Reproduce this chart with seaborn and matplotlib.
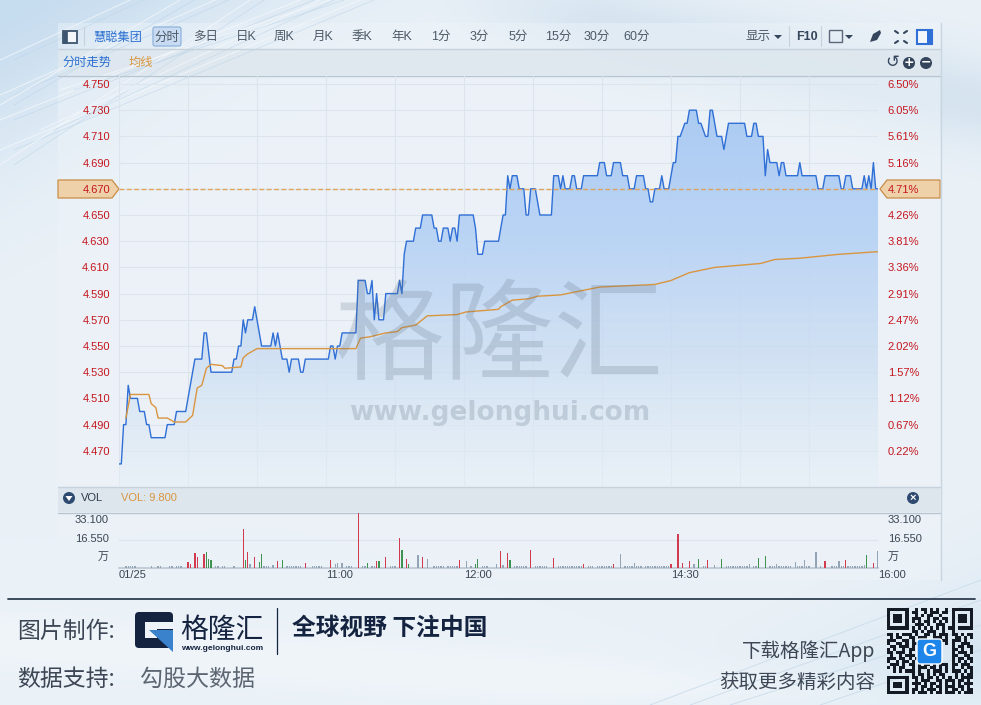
import numpy as np
import pandas as pd
import seaborn as sns
import matplotlib.pyplot as plt
from matplotlib.colors import LinearSegmentedColormap
from matplotlib.patches import Circle, FancyBboxPatch, Polygon, Rectangle

# minutes since the open, 330 = close
price_minutes = [
    0, 1, 2, 3, 4, 5, 8, 9, 11, 12, 13, 14, 20, 21, 24, 25, 29, 33, 36, 37, 38, 40, 49, 50, 51, 52, 53, 54, 55, 56,
    58, 59, 60, 62, 66, 67, 68, 69, 71, 73, 74, 75, 78, 79, 80, 81, 91, 92, 93, 94, 95, 96, 97,
    103, 104, 107, 108, 109, 110, 111, 112, 113, 115, 116, 121, 122, 123, 124, 125, 128, 129, 131, 132, 136, 137,
    138, 139, 140, 141, 143, 144, 145, 146, 147, 148, 154, 155, 156, 158, 159, 165,
    167, 168, 169, 170, 171, 173, 174, 176, 177, 178, 179, 181, 183, 188, 189, 191, 192, 193, 194, 196, 197, 198,
    199, 201, 202, 208, 209, 211, 212, 214, 215, 218, 219, 221, 222, 224, 225, 228, 229, 230, 231, 232, 233, 235,
    236, 237, 239, 241, 242, 243, 244, 246, 247, 248, 251, 252, 253, 255, 256, 257, 258, 260, 262, 263, 265,
    272, 273, 275, 276, 277, 278, 280, 281, 282, 283, 286, 287, 288, 289, 290, 295, 296, 297, 303, 304, 306, 307,
    313, 314, 315, 316, 318, 319, 323, 324, 325, 326, 327, 328, 329, 330,
]
price_values = [
    4.46, 4.46, 4.49, 4.49, 4.52, 4.51, 4.51, 4.50, 4.50, 4.49, 4.49, 4.48, 4.48, 4.49, 4.49, 4.50, 4.50, 4.54, 4.54,
    4.56, 4.56, 4.53, 4.53, 4.54, 4.54, 4.55, 4.55, 4.57, 4.56, 4.57,
    4.57, 4.58, 4.57, 4.55, 4.55, 4.56, 4.55, 4.56, 4.54, 4.54, 4.53, 4.54, 4.54, 4.53, 4.53, 4.54, 4.54, 4.55, 4.55,
    4.54, 4.55, 4.55, 4.56,
    4.56, 4.60, 4.60, 4.59, 4.59, 4.60, 4.57, 4.59, 4.57, 4.57, 4.59, 4.59, 4.60, 4.59, 4.62, 4.63, 4.63, 4.64, 4.64,
    4.65, 4.65, 4.64,
    4.64, 4.63, 4.63, 4.64, 4.64, 4.63, 4.64, 4.64, 4.63, 4.65, 4.65, 4.64, 4.62, 4.62, 4.63, 4.63,
    4.65, 4.65, 4.68, 4.67, 4.68, 4.68, 4.67, 4.67, 4.65, 4.65, 4.67, 4.67, 4.65, 4.65, 4.68, 4.68, 4.67, 4.68, 4.67,
    4.67, 4.68, 4.68,
    4.67, 4.67, 4.68, 4.68, 4.69, 4.69, 4.68, 4.68, 4.69, 4.69, 4.68, 4.68, 4.67, 4.67, 4.68, 4.68, 4.67, 4.67, 4.66,
    4.66, 4.67, 4.67,
    4.68, 4.67, 4.67, 4.69, 4.69, 4.71, 4.71, 4.72, 4.72, 4.73, 4.73, 4.72, 4.72, 4.71, 4.71, 4.73, 4.73, 4.71, 4.71,
    4.70, 4.72,
    4.72, 4.71, 4.71, 4.72, 4.72, 4.71, 4.71, 4.68, 4.70, 4.69, 4.69, 4.68, 4.69, 4.69, 4.68, 4.68, 4.69, 4.68, 4.68,
    4.67, 4.67, 4.68,
    4.68, 4.67, 4.67, 4.68, 4.68, 4.67, 4.67, 4.68, 4.67, 4.68, 4.67, 4.69, 4.67, 4.67,
]

avg_minutes = [
    3, 5, 13, 14, 16, 17, 21, 24, 29, 32, 34, 36, 38, 40, 45, 46, 53, 54, 56, 60, 102, 103, 105, 109, 116, 121, 123,
    129, 134, 147, 151, 165, 166, 171, 178, 182, 192, 209, 233, 240, 248, 259, 279, 285, 296, 313, 330,
]
avg_values = [
    4.495, 4.513, 4.513, 4.506, 4.503, 4.495, 4.495, 4.492, 4.492, 4.497, 4.518, 4.520, 4.533, 4.536, 4.535, 4.533,
    4.534, 4.541, 4.544, 4.548, 4.548, 4.548, 4.556, 4.557, 4.560, 4.561, 4.564, 4.566, 4.573, 4.574, 4.576, 4.578,
    4.580, 4.585, 4.586, 4.588, 4.589, 4.595, 4.597, 4.600, 4.606, 4.610, 4.613, 4.616, 4.617, 4.620, 4.622,
]

up_minutes = [30, 31, 33, 34, 37, 54, 56, 59, 69, 81, 92, 104, 112, 116, 122, 125, 132, 148, 166, 169, 179, 189, 202,
              215, 240, 243, 245, 248, 256, 307, 316, 328]
up_volumes = [3.4, 2.4, 8.5, 6.5, 8.1, 23.0, 9.1, 6.5, 4.0, 3.0, 4.4, 33.1, 4.0, 6.5, 18.0, 5.0, 6.5, 4.4, 10.0, 9.0,
              10.5, 6.0, 2.4, 2.4, 2.4, 20.0, 3.0, 4.0, 4.4, 3.8, 4.4, 3.0]
down_minutes = [38, 39, 40, 55, 61, 62, 71, 108, 113, 123, 126, 155, 156, 170, 252, 262, 278, 281, 325]
down_volumes = [9.1, 5.0, 4.4, 4.8, 3.4, 8.0, 4.4, 2.8, 4.0, 10.5, 2.4, 2.4, 5.2, 4.4, 5.0, 5.0, 5.8, 7.0, 7.5]
flat_minutes = [57, 67, 94, 95, 97, 130, 134, 151, 164, 167, 218, 224, 250, 259, 274, 286, 294, 298, 303, 313, 324, 330]
flat_volumes = [2.4, 1.8, 2.4, 2.8, 3.0, 7.5, 5.4, 3.8, 2.4, 1.8, 8.0, 2.8, 2.4, 1.8, 2.4, 2.4, 3.4, 4.4, 9.3, 4.0,
                1.8, 10.0]
tiny_minutes = [3, 4, 7, 14, 17, 22, 23, 26, 42, 45, 63, 64, 73, 75, 77, 79, 84, 86, 88, 99, 101, 106, 110, 119, 137,
                139, 141, 144, 146, 153, 158, 160, 172, 174, 176, 182, 184, 186, 191, 193, 195, 197, 199, 201, 204,
                206, 209, 211, 213, 220, 222, 226, 229, 231, 233, 235, 237, 254, 264, 266, 268, 270, 272, 283, 285,
                288, 290, 292, 296, 300, 305, 310, 311, 314, 318, 320, 322]
tiny_volumes = [0.7] * len(tiny_minutes)
low_minutes = [5, 6, 18, 25, 27, 43, 46, 50, 65, 74, 76, 78, 85, 87, 100, 107, 111, 118, 120, 138, 140, 143, 145,
               147, 159, 173, 175, 177, 181, 183, 185, 192, 194, 196, 198, 200, 205, 208, 210, 212, 214, 221, 223,
               225, 227, 230, 232, 234, 236, 238, 239, 255, 265, 267, 269, 271, 273, 276, 277, 284, 287, 289, 291,
               295, 297, 299, 312, 315, 317, 319, 321, 323]
low_volumes = [1.2] * len(low_minutes)

price_ticks = [4.750, 4.730, 4.710, 4.690, 4.670, 4.650, 4.630, 4.610, 4.590, 4.570, 4.550, 4.530, 4.510, 4.490, 4.470]
pct_labels = ["6.50%", "6.05%", "5.61%", "5.16%", "4.71%", "4.26%", "3.81%", "3.36%", "2.91%", "2.47%", "2.02%",
              "1.57%", "1.12%", "0.67%", "0.22%"]
time_ticks = [0, 90, 150, 240, 330]
time_labels = ["01/25", "11:00", "12:00", "14:30", "16:00"]
grid_minutes = list(range(0, 331, 30))
period_labels = ["多日", "日K", "周K", "月K", "季K", "年K", "1分", "3分", "5分", "15分", "30分", "60分"]
period_x = [193, 236, 274, 313, 352, 391, 431, 470, 509, 545, 584, 623]

qr_rows = [
    "#######..#.##.#.#..#.#######",
    "#.....#.##..#.###.##.#.....#",
    "#.###.#..#.#.##..#...#.###.#",
    "#.###.#.###..#.##.##.#.###.#",
    "#.###.#.#.#.##.#.#.#.#.###.#",
    "#.....#..###.#..###..#.....#",
    "#######.#.#.#.#.#.#.##.#####",
    "........##.#.###..#..#......",
    "##.#.###.#..##.#.###.##.#.##",
    ".#.##..##.###..###.#..##.#.#",
    "###..##.#.#.##.#..##.###.#..",
    "#..##.#.##..#.##.#.#.#..###.",
    ".##.###.#.##.........#.##.##",
    "#.#..#.##.#..........##.#..#",
    "##.###.#..#..........#.###.#",
    ".#..#.###.#..........##..##.",
    "###.##.#.##..........#.##.##",
    "#..#.##.#.##.........#.#.#.#",
    ".###.#.##.#.##.#.###.##.###.",
    "#.#.##..#.###.##.#.#.#..#.##",
    "..#.#.###.#..#.###.#.###.#.#",
    "........#.##.#.#.##...#.#.##",
    "#######.##.#.##.#.#.#.#.####",
    "#.....#..#.###..##.###.##.#.",
    "#.###.#.###.#.##.#.#.#.#.###",
    "#.###.#..#.##.#.##.###.##.#.",
    "#.....#.##.#.###.#.#.##.#.##",
    "#######.#.###.#.##.###.#.###",
]

W, H = 981, 705
RED = "#c5161d"
BLUE_LINE = "#2f6fd6"
ORANGE = "#d9953f"
GRID = "#dce5ed"
DARK = "#35465c"
TEXT = "#4d5966"
CN = ["Noto Sans CJK SC", "Liberation Sans"]


def px_axes(fig, left, top, right, bottom, **kw):
    # axes placed by pixel box, y counted from the top of the picture
    return fig.add_axes([left / W, 1 - bottom / H, (right - left) / W, (bottom - top) / H], **kw)


def background():
    # soft wash: blue in the top left and bottom right corners, pale bands elsewhere
    yy, xx = np.mgrid[0:H, 0:W]
    img = np.ones((H, W, 3)) * np.array([234, 241, 247]) / 255
    wash = [
        (np.exp(-((xx / 300 + yy / 170) ** 2) * 1.3), (198, 220, 239)),
        (np.exp(-(((yy - (xx - 470) * 0.2) / 45) ** 2)) * np.clip((xx - 430) / 170, 0, 1), (214, 228, 240)),
        (np.exp(-(((981 - xx) / 260 + (705 - yy) / 120) ** 2) * 1.2), (208, 226, 240)),
        (np.exp(-(((yy - 640 - (xx * 0.07)) / 30) ** 2)) * 0.5, (245, 249, 251)),
    ]
    for amount, color in wash:
        img = img * (1 - amount[..., None]) + amount[..., None] * np.array(color) / 255
    return img


sns.set_theme(style="white")
plt.rcParams["font.family"] = ["Liberation Sans", "Noto Sans CJK SC", "DejaVu Sans"]

fig = plt.figure(figsize=(W / 100, H / 100), dpi=100)

# background layer
bg = fig.add_axes([0, 0, 1, 1], zorder=0)
bg.axis("off")
bg.imshow(background(), extent=[0, W, H, 0], aspect="auto")
for x0, y0, x1, y1 in [(0, 95, 215, 0), (0, 120, 300, 0), (0, 150, 360, 0), (0, 165, 250, 0), (0, 60, 130, 0),
                       (40, 130, 320, 0), (0, 105, 180, 0), (60, 90, 330, 0)]:
    bg.plot([x0, x1], [y0, y1], color="#f4f8fb", lw=0.7, alpha=0.8)
    bg.plot([x0 + 14, x1 + 14], [y0, y1], color="#bcd4e9", lw=0.5, alpha=0.7)
for x0, y0, x1, y1 in [(690, 705, 981, 600), (730, 705, 981, 625), (820, 705, 981, 650), (650, 705, 981, 580)]:
    bg.plot([x0, x1], [y0, y1], color="#c9dceb", lw=0.6)

# panel, toolbars and the two price tags sit under the chart
bg.add_patch(Rectangle((58, 23), 882, 557, fc="#eef4f9", ec="none", alpha=0.45))
bg.add_patch(Rectangle((58, 49), 882, 26, fc="#dde6ed", ec="none", alpha=0.75))
bg.add_patch(Rectangle((58, 487), 882, 25, fc="#dde6ed", ec="none", alpha=0.95))
bg.plot([58, 940], [48.5, 48.5], color="#c5d1db", lw=1)
bg.plot([58, 940], [75.5, 75.5], color="#b8c6d2", lw=1)
bg.plot([58, 940], [486.5, 486.5], color="#c5d1db", lw=1)
bg.plot([58, 940], [512.5, 512.5], color="#b8c6d2", lw=1)
bg.plot([940.5, 940.5], [23, 580], color="#c9d6e1", lw=1)
bg.add_patch(Polygon([(58, 180), (112, 180), (119, 189), (112, 198), (58, 198)], fc="#eed1a8", ec="#c98d4a", lw=0.9))
bg.add_patch(Polygon([(940, 180), (887, 180), (880, 189), (887, 198), (940, 198)], fc="#eed1a8", ec="#c98d4a", lw=0.9))
bg.set_xlim(0, W)
bg.set_ylim(H, 0)

# price panel
ax = px_axes(fig, 119, 76, 878, 486, zorder=1)
ax.patch.set_alpha(0)
y_top = 4.75 + 8 / 1310
y_bottom = 4.75 - 402 / 1310
area = Polygon(list(zip(price_minutes, price_values)) + [(330, y_bottom), (0, y_bottom)],
               transform=ax.transData, fc="none", ec="none")
ax.add_patch(area)
fill_cmap = LinearSegmentedColormap.from_list(
    "fill", [(0.66, 0.79, 0.95, 0.95), (0.71, 0.82, 0.96, 0.9), (0.80, 0.87, 0.95, 0.8), (0.90, 0.94, 0.97, 0.5)]
)
shade = ax.imshow(np.linspace(0, 1, 256).reshape(-1, 1), cmap=fill_cmap, extent=[0, 330, y_bottom, 4.73],
                  aspect="auto", zorder=1)
shade.set_clip_path(area)
sns.lineplot(x=price_minutes, y=price_values, ax=ax, color=BLUE_LINE, linewidth=1.0, estimator=None, zorder=3)
sns.lineplot(x=avg_minutes, y=avg_values, ax=ax, color=ORANGE, linewidth=1.0, estimator=None, zorder=4)
ax.axhline(4.67, color="#dfa45c", lw=1, ls=(0, (3.5, 1.8)), zorder=4)
ax.set_xlim(0, 330)
ax.set_ylim(y_bottom, y_top)
ax.set_xticks(grid_minutes)
ax.set_xticklabels([])
ax.set_yticks(price_ticks)
ax.set_yticklabels([f"{v:.3f}" for v in price_ticks])
ax.grid(True, color=GRID, lw=0.8, zorder=0)
ax.set_axisbelow(True)
ax.set_xlabel("")
ax.set_ylabel("")
ax.tick_params(axis="x", length=0)
ax.tick_params(axis="y", length=0, pad=6.5, labelsize=8, labelcolor=RED)
sns.despine(ax=ax, left=True, bottom=True, top=True, right=True)

pct_ax = ax.twinx()
pct_ax.patch.set_alpha(0)
pct_ax.set_ylim(y_bottom, y_top)
pct_ax.set_yticks(price_ticks)
pct_ax.set_yticklabels(pct_labels)
pct_ax.tick_params(axis="y", length=0, pad=7, labelsize=8, labelcolor=RED)
pct_ax.grid(False)
sns.despine(ax=pct_ax, left=True, bottom=True, top=True, right=True)

# volume panel
vol = pd.DataFrame({
    "minute": up_minutes + down_minutes + flat_minutes + tiny_minutes + low_minutes,
    "volume": up_volumes + down_volumes + flat_volumes + tiny_volumes + low_volumes,
    "kind": ["up"] * len(up_minutes) + ["down"] * len(down_minutes) + ["flat"] * len(flat_minutes)
    + ["flat"] * (len(tiny_minutes) + len(low_minutes)),
})
axv = px_axes(fig, 119, 512.5, 878, 567.5, zorder=1)
axv.patch.set_alpha(0)
sns.barplot(data=vol, x="minute", y="volume", hue="kind", palette={"up": "#d23a50", "down": "#3f9350", "flat": "#93a5b5"},
            native_scale=True, dodge=False, width=0.6, saturation=1, errorbar=None, legend=False, ax=axv, zorder=3,
            linewidth=0, edgecolor="none")
axv.set_xlim(0, 330)
axv.set_ylim(0, 33.1)
axv.set_xticks(time_ticks)
axv.set_xticklabels(time_labels, ha="left")
axv.set_yticks([16.55])
axv.set_yticklabels([""])
axv.grid(True, axis="y", color=GRID, lw=0.9)
axv.grid(False, axis="x")
axv.set_xlabel("")
axv.set_ylabel("")
axv.tick_params(axis="both", length=0, pad=2, labelsize=8, labelcolor="#3a4654")
sns.despine(ax=axv, left=True, top=True, right=True)
axv.spines["bottom"].set_color("#bcc8d3")

# text layer
top = fig.add_axes([0, 0, 1, 1], zorder=2)
top.axis("off")
top.patch.set_alpha(0)
top.text(500, 340, "格隆汇", family=CN, fontsize=79, color="#5f7184", alpha=0.22, ha="center", va="center",
         weight="light")
top.text(500, 413, "www.gelonghui.com", fontsize=19, color="#5f7184", alpha=0.24, ha="center", va="center",
         weight="bold", family="DejaVu Sans")

# toolbar
top.add_patch(Rectangle((63, 31), 14, 12, fc="#f4f7fa", ec="#3d5570", lw=1.3))
top.add_patch(Rectangle((63, 31), 4, 12, fc="#3d5570", ec="#3d5570", lw=0.5))
top.plot([84, 84], [27, 45], color="#c5d1db", lw=0.8)
top.text(93, 37, "慧聪集团", family=CN, fontsize=8.8, color="#2a6fd0", va="center")
top.add_patch(FancyBboxPatch((153, 27), 28, 19, boxstyle="round,pad=0,rounding_size=2", fc="#c8dbf2", ec="#8fb4dc", lw=0.9))
top.text(167, 37, "分时", family=CN, fontsize=9, color=TEXT, ha="center", va="center")
for label, x in zip(period_labels, period_x):
    top.text(x, 37, label, fontsize=9, color=TEXT, va="center")
top.text(746, 37, "显示", fontsize=9, color=TEXT, va="center")
top.add_patch(Polygon([(774, 35), (782, 35), (778, 39)], fc=DARK, ec="none"))
top.plot([789, 789], [26, 46], color="#c5d1db", lw=0.8)
top.text(796, 37, "F10", fontsize=9, color=DARK, weight="bold", va="center")
top.plot([821, 821], [26, 46], color="#c5d1db", lw=0.8)
top.add_patch(Rectangle((829, 30), 13, 12, fc="none", ec="#5a6878", lw=1))
top.add_patch(Polygon([(845, 35), (853, 35), (849, 39)], fc=DARK, ec="none"))
top.add_patch(Polygon([(870, 42), (873, 34), (880, 30), (881, 33), (877, 40)], fc=DARK, ec="none"))
for x0, y0, dx, dy in [(895, 31, 3, 2), (907, 31, -3, 2), (895, 43, 3, -2), (907, 43, -3, -2)]:
    top.plot([x0, x0 + dx], [y0, y0 + dy], color=DARK, lw=1.5)
top.add_patch(Rectangle((917, 30), 15, 14, fc="#f4f7fa", ec="#2f6fd6", lw=1.5))
top.add_patch(Rectangle((927, 30), 5, 14, fc="#2f6fd6", ec="none"))

top.text(62, 63, "分时走势", fontsize=8.8, color="#2a6fd0", va="center")
top.text(129, 63, "均线", fontsize=8.8, color=ORANGE, va="center")
top.text(892, 62, "↺", fontsize=12, color=DARK, ha="center", va="center", family="DejaVu Sans")
for x, sign in [(909, "+"), (926, "−")]:
    top.add_patch(Circle((x, 63), 6, fc=DARK, ec="none"))
    top.text(x, 62.5, sign, fontsize=9, color="white", weight="bold", ha="center", va="center", family="DejaVu Sans")

# volume header and labels
top.add_patch(Circle((69, 498), 6, fc="#2e4a70", ec="none"))
top.add_patch(Polygon([(65.5, 496), (72.5, 496), (69, 501)], fc="white", ec="none"))
top.text(81, 498, "VOL", fontsize=8, color="#2c3a4a", va="center")
top.text(121, 498, "VOL: 9.800", fontsize=8, color=ORANGE, va="center")
top.add_patch(Circle((913, 498), 6, fc="#2e4a70", ec="none"))
top.text(913, 497.5, "×", fontsize=8, color="white", ha="center", va="center", weight="bold")
for y, label in [(520, "33.100"), (539, "16.550"), (557, "万")]:
    top.text(109, y, label, fontsize=8, color="#3a4654", ha="right", va="center")
    top.text(888, y, label, fontsize=8, color="#3a4654", va="center")

# footer
top.plot([8, 975], [599, 599], color="#2e3d50", lw=1.3)
top.text(17, 631, "图片制作:", family=CN, fontsize=16.5, color="#3c4654", va="center")
top.add_patch(FancyBboxPatch((135, 612), 38, 36, boxstyle="round,pad=0,rounding_size=4", fc="#14233f", ec="none"))
top.add_patch(Rectangle((145, 622), 29, 7, fc="#edf3f8", ec="none"))
top.add_patch(Rectangle((145, 622), 12, 16, fc="#edf3f8", ec="none"))
top.add_patch(Polygon([(149, 630), (173, 630), (173, 652)], fc="#3a82cc", ec="none"))
top.text(222, 630, "格隆汇", family=CN, fontsize=20, color="#14233f", ha="center", va="center")
top.text(222, 648, "www.gelonghui.com", fontsize=6, color="#14233f", ha="center", va="center", weight="bold")
top.plot([277, 277], [608, 654], color="#14233f", lw=0.9)
top.text(292, 628, "全球视野 下注中国", family=CN, fontsize=17.1, color="#14233f", va="center", weight="bold")
top.text(17, 679, "数据支持:", family=CN, fontsize=16.5, color="#3c4654", va="center")
top.text(140, 679, "勾股大数据", family=CN, fontsize=16.6, color="#5c6672", va="center", weight="light")
top.text(875, 651, "下载格隆汇App", family=CN, fontsize=14, color="#3c4654", ha="right", va="center")
top.text(875, 682, "获取更多精彩内容", family=CN, fontsize=14, color="#3c4654", ha="right", va="center")

# QR block
cell = 86 / 28
for r, row in enumerate(qr_rows):
    for c, ch in enumerate(row):
        if ch == "#":
            top.add_patch(Rectangle((887 + c * cell, 608 + r * cell), cell, cell, fc="#151b24", ec="none"))
top.add_patch(FancyBboxPatch((917, 639), 25, 25, boxstyle="round,pad=0,rounding_size=3", fc="#1e86ea", ec="white", lw=1))
top.text(929.5, 651, "G", fontsize=13, color="white", weight="bold", ha="center", va="center")

top.set_xlim(0, W)
top.set_ylim(H, 0)

plt.savefig("out.png", dpi=100)
